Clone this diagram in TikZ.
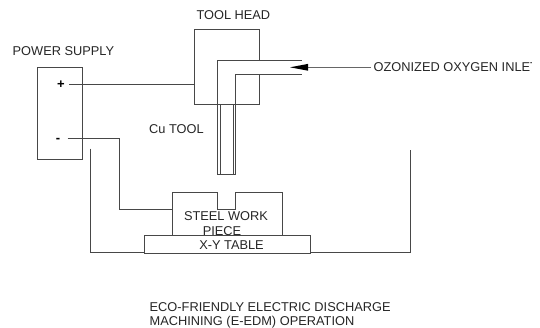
\documentclass[tikz,border=0pt]{standalone}
\usepackage{fontspec}
\setmainfont{Liberation Sans}
\usetikzlibrary{arrows.meta}
\tikzset{
  ln/.style={draw=black!72,line width=0.8pt},
  lbl/.style={inner sep=0pt,text=black!85,font=\fontsize{12.8pt}{14pt}\selectfont},
  sign/.style={inner sep=0pt,font=\fontsize{13pt}{14pt}\selectfont\bfseries}
}
\begin{document}
\begin{tikzpicture}[x=1pt,y=-1pt]
\useasboundingbox (0,0) rectangle (540,327);
\clip (0,0) rectangle (540,327);
\fill[white] (0,0) rectangle (540,327);
% tank
\draw[ln] (90,148.5) -- (90,252.5) -- (410,252.5) -- (410,150);
% power supply
\node[ln,inner sep=0pt,minimum width=45pt,minimum height=92.5pt,anchor=north west] (ps) at (37,66.7) {};
\node[sign,anchor=center] (plus) at (61,84.5) {+};
\node[sign,anchor=center] (minus) at (58,140.5) {-};
% tool head outline
\coordinate (h1) at (259,60);
\coordinate (h2) at (259,29);
\coordinate (h3) at (194.5,29);
\coordinate (h4) at (194.5,104.7);
\coordinate (h5) at (259,104.7);
\coordinate (h6) at (259,74.5);
\draw[ln] (h1) -- (h2) -- (h3) -- (h4) -- (h5) -- (h6);
% duct
\coordinate (d1) at (301.7,60);
\coordinate (d2) at (217.7,60);
\coordinate (d3) at (217.7,104.7);
\coordinate (d4) at (301.7,74.5);
\coordinate (d5) at (235.7,74.5);
\coordinate (d6) at (235.7,104.7);
\draw[ln] (d1) -- (d2) -- (d3);
\draw[ln] (d4) -- (d5) -- (d6);
% tool
\coordinate (t1) at (217.7,174.3);
\coordinate (t2) at (235.7,174.3);
\draw[ln] (d3) -- (t1) -- (t2) -- (d6);
\draw[ln,line width=0.7pt] (220,104.7) -- (220,174.3);
\draw[ln,line width=0.7pt] (233.3,104.7) -- (233.3,174.3);
% work piece
\coordinate (w1) at (172,235.3);
\coordinate (w2) at (172,192.3);
\coordinate (w3) at (217.7,192.3);
\coordinate (w4) at (217.7,209.3);
\coordinate (w5) at (235.7,209.3);
\coordinate (w6) at (235.7,192.3);
\coordinate (w7) at (282.3,192.3);
\coordinate (w8) at (282.3,235.3);
\draw[ln] (w1) -- (w2) -- (w3) -- (w4) -- (w5) -- (w6) -- (w7) -- (w8);
\node[lbl] (steel) at (226,216) {STEEL WORK};
\node[lbl] (piece) at (222,230.7) {PIECE};
% table
\node[ln,fill=white,inner sep=0pt,minimum width=165.7pt,minimum height=17.2pt,anchor=north west] (table) at (144.3,235.3) {};
\node[lbl] (tabletxt) at (231.5,244.7) {X-Y TABLE};
% wires
\coordinate (pw) at (69.3,84);
\coordinate (mw) at (67.7,138.3);
\coordinate (mw1) at (119.5,138.3);
\coordinate (mw2) at (119.5,209.3);
\draw[ln] (pw) -- (h3 |- pw);
\draw[ln] (mw) -- (mw1) -- (mw2) -- (w1 |- mw2);
% labels
\node[lbl,anchor=west] (headtxt) at (196.3,15) {TOOL HEAD};
\node[lbl,anchor=west] (pstxt) at (12.5,51) {POWER SUPPLY};
\node[lbl,anchor=west] (cutxt) at (149,129.5) {Cu TOOL};
\node[lbl,anchor=west] (inlet) at (373.5,67.3) {OZONIZED OXYGEN INLET};
\fill[white] (531.5,55) rectangle (540,80);
\node[lbl,anchor=west] (cap1) at (149.5,306.7) {ECO-FRIENDLY ELECTRIC DISCHARGE};
\node[lbl,anchor=west] (cap2) at (149.5,322) {MACHINING (E-EDM) OPERATION};
% inlet arrow
\coordinate (tip) at (290,67.3);
\coordinate (base) at (308,67.3);
\draw[ln,draw=black!60] (inlet.west) ++(-2.5,0) -- (base);
\fill[black] (tip) -- ++(18,-3.4) -- ++(0,6.8) -- cycle;
\end{tikzpicture}
\end{document}
